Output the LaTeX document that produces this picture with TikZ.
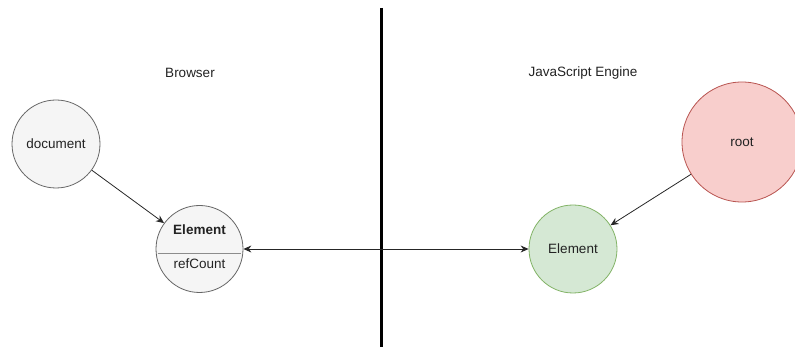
\documentclass[tikz,border=0pt]{standalone}
\usepackage{fontspec}
\setmainfont{Liberation Sans}
\usetikzlibrary{arrows.meta,calc}
\definecolor{grayfill}{HTML}{F5F5F5}
\definecolor{graystroke}{HTML}{666666}
\definecolor{greenfill}{HTML}{D5E8D4}
\definecolor{greenstroke}{HTML}{82B366}
\definecolor{redfill}{HTML}{F8CECC}
\definecolor{redstroke}{HTML}{B85450}
\definecolor{txt}{HTML}{222222}
\tikzset{
  obj/.style={circle, draw, line width=0.8pt, inner sep=0pt, font=\fontsize{13.5}{16}\selectfont, text=txt},
  grayobj/.style={obj, fill=grayfill, draw=graystroke},
  greenobj/.style={obj, fill=greenfill, draw=greenstroke},
  redobj/.style={obj, fill=redfill, draw=redstroke},
  ref/.style={draw=black!85, line width=0.8pt, -{Stealth[length=8pt,width=7pt]}},
  heading/.style={font=\fontsize{13.5}{16}\selectfont, text=txt}
}
\begin{document}
\begin{tikzpicture}[x=1pt, y=-1pt]
  \useasboundingbox (0,0) rectangle (795,347);

  % region headings
  \node[heading] (browser) at (190,73) {Browser};
  \node[heading] (engine) at (583,73) {JavaScript Engine};

  % divider between browser and engine
  \coordinate (divtop) at (381,8);
  \coordinate (divbot) at (381,347);
  \draw[line width=3pt] (divtop) -- (divbot);

  % browser side
  \node[grayobj, minimum size=88pt] (doc) at (56,144) {document};
  \node[grayobj, minimum size=87pt] (elem) at (199.5,249) {};
  \node[font=\bfseries\fontsize{13.5}{16}\selectfont, text=txt] (elemname) at (199.5,230) {Element};
  \node[font=\fontsize{13.5}{16}\selectfont, text=txt] (elemref) at (199.5,264) {refCount};
  \draw[black!45, line width=0.8pt] ($(elem.west)+(2,4)$) -- ($(elem.east)+(-2,4)$);

  % engine side
  \node[greenobj, minimum size=88pt] (jselem) at (573,249) {Element};
  \node[redobj, minimum size=120pt] (root) at (742,142) {root};

  % references
  \draw[ref] (doc) -- (elem);
  \draw[ref] (root) -- (jselem);
  \draw[ref, {Stealth[length=8pt,width=7pt]}-{Stealth[length=8pt,width=7pt]}] (elem) -- (jselem);
\end{tikzpicture}
\end{document}
